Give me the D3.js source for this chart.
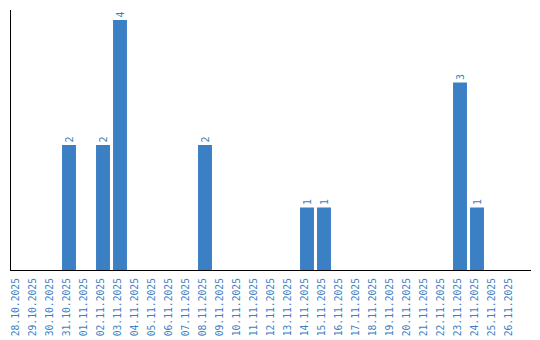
<!DOCTYPE html>
<html><head><meta charset="utf-8">
<script src="https://cdn.jsdelivr.net/npm/d3@7"></script>
<style>body{margin:0;background:#fff}svg{display:block}</style>
</head><body>
<svg id="c" width="540" height="340"></svg>
<script>
const dates = ["28.10.2025","29.10.2025","30.10.2025","31.10.2025","01.11.2025","02.11.2025","03.11.2025","04.11.2025","05.11.2025","06.11.2025","07.11.2025","08.11.2025","09.11.2025","10.11.2025","11.11.2025","12.11.2025","13.11.2025","14.11.2025","15.11.2025","16.11.2025","17.11.2025","18.11.2025","19.11.2025","20.11.2025","21.11.2025","22.11.2025","23.11.2025","24.11.2025","25.11.2025","26.11.2025"];
const counts = [0,0,0,2,0,2,4,0,0,0,0,2,0,0,0,0,0,1,1,0,0,0,0,0,0,0,3,1,0,0];

const svg = d3.select("#c");
const color = "#3b7fc4";
const font = "DejaVu Sans Mono";
const x = d3.scaleBand().domain(dates).range([9.5, 519.5]).paddingInner(0.18).paddingOuter(0.09);
const y = d3.scaleLinear().domain([0, 4]).range([270, 20]);

svg.selectAll("rect.bar").data(dates).enter().append("rect")
  .attr("class","bar")
  .attr("x", d => x(d))
  .attr("width", x.bandwidth())
  .attr("y", (d,i) => y(counts[i]))
  .attr("height", (d,i) => y(0) - y(counts[i]))
  .attr("fill", color);

svg.selectAll("text.val").data(dates.filter((d,i)=>counts[i]>0)).enter().append("text")
  .attr("class","val")
  .attr("transform", d => `translate(${x(d)+x.bandwidth()/2+3.5},${y(counts[dates.indexOf(d)])-2.5}) rotate(-90)`)
  .attr("font-family",font).attr("font-size",10).attr("fill",color)
  .text(d => counts[dates.indexOf(d)]);

svg.append("line").attr("x1",10.5).attr("x2",10.5).attr("y1",10).attr("y2",270.5).attr("stroke","#000");
svg.append("line").attr("x1",10).attr("x2",531).attr("y1",270.5).attr("y2",270.5).attr("stroke","#000");

svg.selectAll("text.xl").data(dates).enter().append("text")
  .attr("class","xl")
  .attr("transform", d => `translate(${x(d)+x.bandwidth()/2-2.5},278) rotate(-90)`)
  .attr("text-anchor","end").attr("dy","0.35em")
  .attr("font-family",font).attr("font-size",9.7).attr("fill",color)
  .text(d => d);
</script>
</body></html>
